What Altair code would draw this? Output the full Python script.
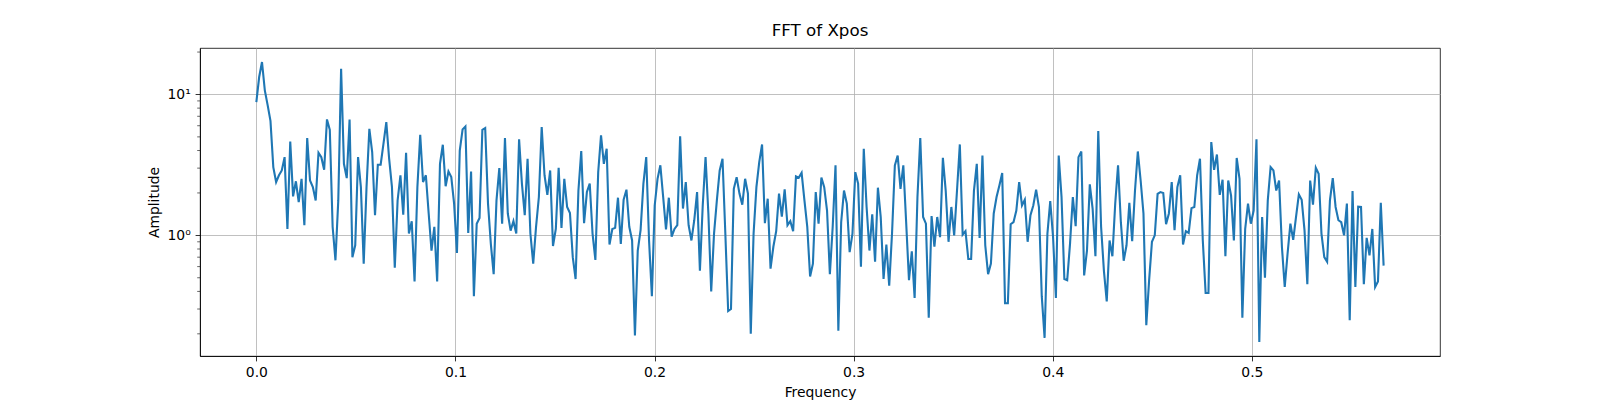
import altair as alt
import numpy as np
import pandas as pd

# FFT amplitude of Xpos (one value per frequency bin)
amplitude = [
    8.83, 13.3, 17.0, 10.7, 8.4, 6.5, 3.05, 2.39, 2.67, 2.89,
    3.59, 1.11, 4.64, 1.89, 2.42, 1.72, 2.52, 1.18, 4.9, 2.45,
    2.2, 1.77, 3.86, 3.59, 2.92, 6.65, 5.61, 1.15, 0.665, 1.77,
    15.2, 3.22, 2.55, 6.65, 0.70, 0.85, 3.59, 2.2, 0.63, 2.2,
    5.7, 3.9, 1.39, 3.17, 3.17, 4.47, 6.36, 3.5, 2.2, 0.59,
    1.77, 2.67, 1.40, 3.86, 1.03, 1.26, 0.47, 2.2, 5.18, 2.39,
    2.67, 1.43, 0.78, 1.15, 0.47, 3.22, 4.4, 2.23, 2.84, 2.59,
    1.68, 0.75, 4.0, 5.65, 5.93, 1.04, 2.84, 0.37, 1.21, 1.33,
    5.61, 5.77, 1.68, 0.87, 0.53, 1.77, 3.0, 1.21, 4.9, 1.43,
    1.08, 1.26, 1.03, 4.8, 2.33, 1.39, 3.5, 1.03, 0.63, 1.15,
    1.87, 5.87, 2.67, 1.94, 2.89, 0.84, 1.11, 3.02, 1.13, 2.52,
    1.59, 1.44, 0.70, 0.49, 2.08, 3.96, 1.22, 2.03, 2.33, 1.03,
    0.67, 2.81, 5.12, 3.22, 4.12, 0.86, 1.11, 1.13, 1.85, 0.87,
    1.79, 2.11, 1.15, 0.92, 0.195, 0.78, 1.09, 2.33, 3.59, 0.92,
    0.37, 1.63, 2.52, 3.14, 1.87, 1.1, 1.85, 0.98, 1.11, 1.18,
    5.04, 1.55, 2.39, 1.18, 0.92, 1.28, 2.03, 0.56, 1.63, 3.59,
    1.43, 0.40, 1.03, 1.77, 2.89, 3.5, 1.03, 0.29, 0.30, 2.14,
    2.59, 1.98, 1.65, 2.52, 1.98, 0.20, 1.03, 2.2, 3.31, 4.42,
    1.22, 1.82, 0.58, 0.83, 1.07, 1.98, 1.36, 2.12, 1.18, 1.26,
    1.07, 2.62, 2.57, 2.78, 1.77, 1.15, 0.51, 0.63, 2.03, 1.21,
    2.57, 2.2, 1.5, 0.53, 1.15, 3.14, 0.21, 1.24, 2.08, 1.68,
    0.76, 1.03, 2.81, 2.33, 0.60, 4.12, 1.59, 0.78, 1.41, 0.65,
    2.18, 1.35, 0.49, 0.86, 0.44, 1.03, 3.14, 3.69, 2.14, 3.14,
    1.24, 0.48, 0.77, 0.36, 1.87, 4.9, 1.35, 1.21, 0.26, 1.37,
    0.83, 1.35, 0.97, 3.55, 2.08, 0.9, 1.59, 1.0, 2.08, 4.42,
    1.01, 1.07, 0.68, 0.68, 2.08, 3.22, 0.96, 3.69, 0.85, 0.53,
    0.63, 1.43, 1.87, 2.26, 2.77, 0.33, 0.33, 1.2, 1.24, 1.5,
    2.39, 1.63, 1.79, 0.9, 1.39, 1.63, 2.11, 1.59, 0.37, 0.187,
    1.03, 1.75, 0.97, 0.36, 3.69, 1.87, 0.49, 0.48, 0.87, 1.87,
    1.16, 3.59, 3.94, 0.52, 0.78, 2.3, 1.55, 0.71, 5.5, 1.15,
    0.56, 0.34, 0.92, 0.71, 1.68, 3.14, 1.24, 0.66, 0.85, 1.7,
    0.91, 2.08, 3.94, 2.45, 1.43, 0.23, 0.48, 0.9, 1.0, 1.97,
    2.03, 2.0, 1.2, 1.43, 2.39, 1.09, 2.2, 2.67, 0.86, 1.07,
    1.04, 1.56, 1.59, 2.67, 3.5, 0.92, 0.39, 0.39, 4.59, 2.92,
    3.75, 1.94, 2.48, 0.71, 2.45, 1.92, 0.92, 3.54, 2.52, 0.26,
    1.11, 1.68, 1.21, 1.5, 4.8, 0.175, 1.35, 0.5, 1.77, 3.05,
    2.89, 2.08, 2.45, 0.83, 0.43, 0.74, 1.21, 0.93, 1.35, 1.95,
    1.79, 1.09, 0.45, 2.45, 1.65, 3.02, 2.74, 1.03, 0.70, 0.65,
    1.77, 2.55, 1.59, 1.28, 1.24, 1.0, 1.68, 0.25, 2.06, 0.43,
    1.6, 1.59, 0.45, 0.96, 0.72, 1.11, 0.43, 0.47, 1.7, 0.61,
]
FREQ_STEP = 0.001419  # bin width
frequency = np.arange(len(amplitude)) * FREQ_STEP

x_ticks = [0.0, 0.1, 0.2, 0.3, 0.4, 0.5]
y_ticks = [1, 10]
y_minor = [0.2, 0.3, 0.4, 0.5, 0.6, 0.7, 0.8, 0.9, 2, 3, 4, 5, 6, 7, 8, 9, 20]

X_DOMAIN = [-0.0283, 0.5945]
Y_DOMAIN = [0.1392, 21.37]

BLUE = "#1f77b4"
FONT = "DejaVu Sans"

df = pd.DataFrame({"Frequency": frequency, "Amplitude": amplitude})

x_scale = alt.Scale(domain=X_DOMAIN, nice=False, zero=False)
y_scale = alt.Scale(type="log", domain=Y_DOMAIN, nice=False)
y_axis = alt.Axis(values=y_ticks, title="Amplitude",
                  labelExpr="datum.value == 1 ? '10⁰' : '10¹'")

line = alt.Chart(df).mark_line(color=BLUE, strokeWidth=2.1).encode(
    x=alt.X("Frequency:Q", scale=x_scale,
            axis=alt.Axis(values=x_ticks, format=".1f", title="Frequency")),
    y=alt.Y("Amplitude:Q", scale=y_scale, axis=y_axis),
)

# log-axis minor ticks, like matplotlib draws them
minor = alt.Chart(pd.DataFrame({"m": y_minor})).mark_rule(
    color="black", strokeWidth=0.6
).encode(
    y=alt.Y("m:Q", scale=y_scale, axis=y_axis, title="Amplitude"),
    x=alt.value(0),
    x2=alt.value(-2.8),
)

chart = (line + minor).properties(
    width=1240,
    height=308,
    title=alt.TitleParams("FFT of Xpos", fontSize=16.7, fontWeight="normal",
                          font=FONT, anchor="middle", offset=8, color="black"),
    autosize=alt.AutoSizeParams(type="none"),
    padding={"left": 192, "top": 40, "right": 152, "bottom": 44},
).configure_view(
    stroke="black", strokeWidth=0.8,
).configure_axis(
    domainColor="black", domainWidth=0.8,
    tickColor="black", tickWidth=0.8, tickSize=4.9,
    labelFont=FONT, labelFontSize=13.9, labelColor="black", labelPadding=4.9,
    titleFont=FONT, titleFontSize=13.9, titleColor="black",
    titleFontWeight="normal", titlePadding=5.6,
    grid=True, gridColor="#b0b0b0", gridWidth=0.8,
    labelFlush=False,
)

chart.save("out.html", embed_options={"renderer": "svg", "actions": False})
